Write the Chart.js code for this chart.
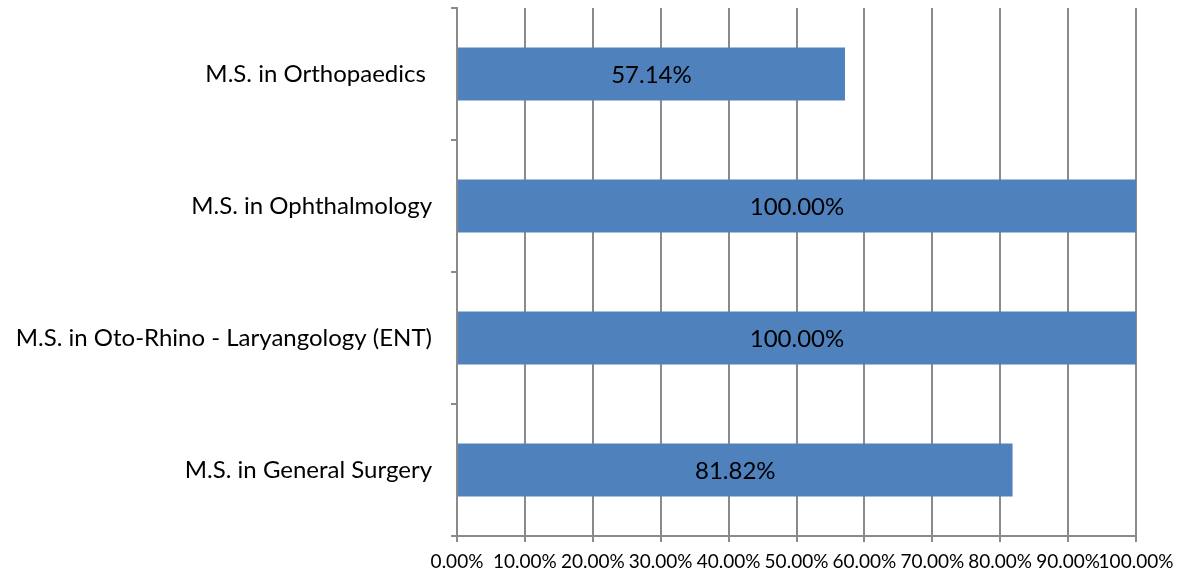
<!DOCTYPE html>
<html>
<head>
<meta charset="utf-8">
<script src="https://cdn.jsdelivr.net/npm/chart.js@4/dist/chart.umd.min.js"></script>
<style>
html,body{margin:0;padding:0;background:#fff}
#wrap{width:1179px;height:581px}
</style>
</head>
<body>
<div id="wrap"><canvas id="grafico"></canvas></div>
<script>
let categorias=["M.S. in Orthopaedics ","M.S. in Ophthalmology","M.S. in Oto-Rhino - Laryangology (ENT)","M.S. in General Surgery"]
let valores=[57.14,100,100,81.82]

let corBarra="#4F81BD"
let corGrade="#8a8a8a"
let fonte="Lato, 'Open Sans', sans-serif"

// rotulos no meio de cada barra
let rotulos={
id:"rotulos",
afterDatasetsDraw(chart){
let ctx=chart.ctx
ctx.save()
ctx.font="24px "+fonte
ctx.fillStyle="#000"
ctx.textAlign="center"
ctx.textBaseline="middle"
chart.getDatasetMeta(0).data.forEach((bar,i)=>{
let p=bar.getProps(["x","y","base"],true)
ctx.fillText(valores[i].toFixed(2)+"%",(p.x+p.base)/2,p.y+1)
})
ctx.restore()
}
}

new Chart(grafico,{
type:"bar",
data:{
labels:categorias,
datasets:[{data:valores,backgroundColor:corBarra,barPercentage:0.4,categoryPercentage:1}]
},
options:{
indexAxis:"y",
responsive:true,
maintainAspectRatio:false,
animation:false,
layout:{padding:{top:8,right:43,left:0,bottom:0}},
plugins:{legend:{display:false},tooltip:{enabled:false}},
scales:{
x:{
min:0,max:100,
ticks:{stepSize:10,autoSkip:false,color:"#000",font:{family:fonte,size:19},padding:8,maxRotation:0,
callback:v=>v.toFixed(2)+"%"},
grid:{color:corGrade,lineWidth:2,tickLength:6},
border:{color:corGrade,width:2},
afterFit(s){s.height=45;s.paddingLeft=0;s.paddingRight=0}
},
y:{
ticks:{color:"#000",font:{family:fonte,size:24},padding:19},
grid:{drawOnChartArea:false,color:corGrade,lineWidth:2,tickLength:6},
border:{color:corGrade,width:2},
afterFit(s){s.width=457;s.paddingTop=0;s.paddingBottom=0}
}
}
},
plugins:[rotulos]
})
</script>
</body>
</html>
